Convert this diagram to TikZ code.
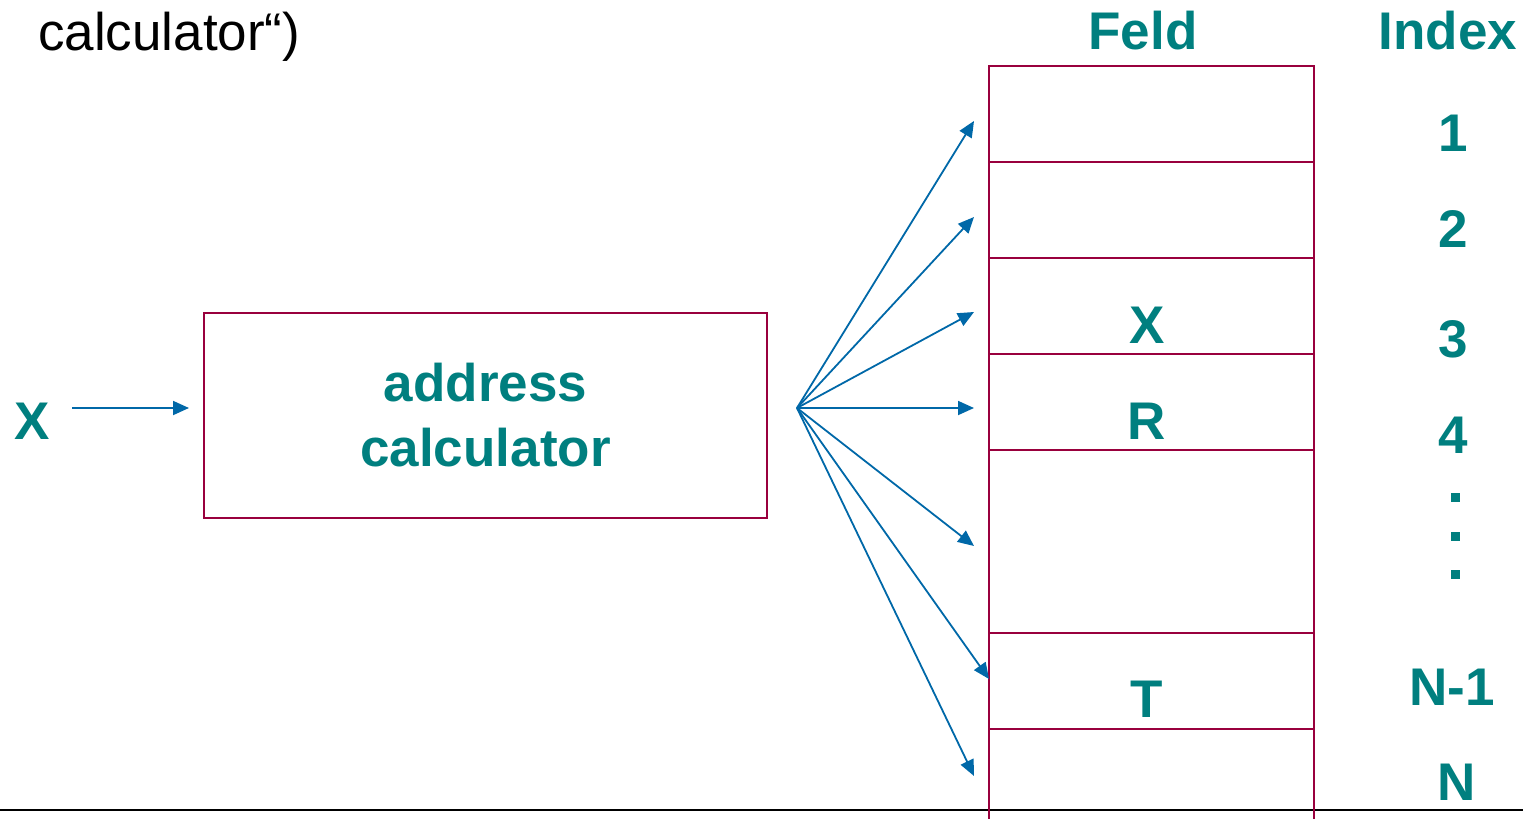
\documentclass[tikz,border=0pt]{standalone}
\usepackage{fontspec}
\setmainfont{Liberation Sans}
\usetikzlibrary{arrows.meta}
\definecolor{crim}{HTML}{99003D}
\definecolor{tealc}{HTML}{007F7F}
\definecolor{arrblue}{HTML}{0068A8}
\begin{document}
\begin{tikzpicture}[x=1pt,y=-1pt,
  lbl/.style={text=tealc, font=\bfseries\fontsize{53}{65}\selectfont, inner sep=0pt, anchor=base},
  cellbox/.style={draw=crim, line width=2pt, minimum width=325pt, inner sep=0pt},
  calcbox/.style={draw=crim, line width=2pt, minimum width=563pt, minimum height=205pt, inner sep=0pt,
    text=tealc, font=\bfseries\fontsize{53}{65}\selectfont, align=center},
  arr/.style={draw=arrblue, line width=1.8pt, -{Triangle[length=16pt,width=14pt]}},
  dotsq/.style={fill=tealc, minimum size=9pt, inner sep=0pt}]
\path[use as bounding box] (0,0) rectangle (1523,819);

% bottom rule
\coordinate (ruleL) at (0,810);
\coordinate (ruleR) at (1523,810);
\draw[black, line width=1.5pt] (ruleL) -- (ruleR);

% title fragment
\node[anchor=base west, inner sep=0pt, font=\fontsize{53}{65}\selectfont] (title) at (38,50) {calculator“)};

% headers
\node[lbl] (feld) at (1143,49) {Feld};
\node[lbl] (index) at (1448,49) {Index};

% table cells
\node[cellbox, minimum height=96pt] (c1) at (1151.5,114) {};
\node[cellbox, minimum height=96pt] (c2) at (1151.5,210) {};
\node[cellbox, minimum height=96pt] (c3) at (1151.5,306) {};
\node[cellbox, minimum height=96pt] (c4) at (1151.5,402) {};
\node[cellbox, minimum height=183pt] (c5) at (1151.5,541.5) {};
\node[cellbox, minimum height=96pt] (c6) at (1151.5,681) {};
\coordinate (c7a) at (989,729);
\coordinate (c7b) at (989,819);
\coordinate (c7c) at (1314,729);
\coordinate (c7d) at (1314,819);
\draw[draw=crim, line width=2pt] (c7a) -- (c7b) (c7c) -- (c7d);

% cell contents
\node[lbl] (vx) at (1147,343) {X};
\node[lbl] (vr) at (1147,439) {R};
\node[lbl] (vt) at (1147,717) {T};

% indices
\node[lbl] (i1) at (1453,151) {1};
\node[lbl] (i2) at (1453,247) {2};
\node[lbl] (i3) at (1453,357) {3};
\node[lbl] (i4) at (1453,453) {4};
\node[dotsq] (d1) at (1455,497) {};
\node[dotsq] (d2) at (1455,536) {};
\node[dotsq] (d3) at (1455,574) {};
\node[lbl] (iN1) at (1452,705) {N-1};
\node[lbl] (iN) at (1457,800) {N};

% address calculator
\node[calcbox] (calc) at (485.5,415.5) {address\\calculator};
\node[lbl] (xin) at (32,439) {X};
\coordinate (a0) at (72,408);
\draw[arr, shorten >=14pt] (a0) -- (calc.west |- a0);

% fan of arrows
\coordinate (fan) at (797,408);
\coordinate (t1) at (974,121);
\coordinate (t2) at (974,217);
\coordinate (t3) at (974,312);
\coordinate (t4) at (974,408);
\coordinate (t5) at (974,546);
\coordinate (t6) at (989,679);
\coordinate (t7) at (974,776);
\foreach \t in {t1,t2,t3,t4,t5,t6,t7}{\draw[arr] (fan) -- (\t);}
\end{tikzpicture}
\end{document}
